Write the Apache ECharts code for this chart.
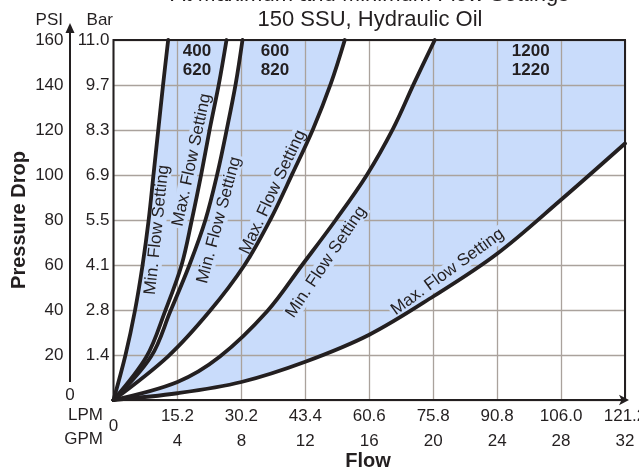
<!DOCTYPE html>
<html><head><meta charset="utf-8">
<script src="https://cdn.jsdelivr.net/npm/echarts/dist/echarts.min.js"></script>
<style>html,body{margin:0;padding:0;background:#fff}#c{width:639px;height:470px}</style>
</head><body><div id="c"></div>
<script>
// ---- data (GPM, PSI) ----
const gpmTicks = [0, 4, 8, 12, 16, 20, 24, 28, 32];
const lpmLabels = ['', '15.2', '30.2', '43.4', '60.6', '75.8', '90.8', '106.0', '121.2'];
const psiTicks = [0, 20, 40, 60, 80, 100, 120, 140, 160];
const barLabels = ['', '1.4', '2.8', '4.1', '5.5', '6.9', '8.3', '9.7', '11.0'];

const min400 = [[0,0],[0.75,20],[1.35,40],[1.82,60],[2.2,80],[2.5,100],[2.8,120],[3.1,140],[3.42,160]];
const max400 = [[0,0],[2.07,19.3],[3.22,39.3],[4.26,60],[4.9,80],[5.5,100.7],[6.03,120.7],[6.6,140.7],[7.07,160]];
const min600 = [[0,0],[2.35,19.3],[3.55,39.3],[4.75,60],[5.75,80],[6.5,100.7],[7.1,120.7],[7.65,140.7],[8.07,160]];
const max600 = [[0,0],[3.4,19.3],[6.0,39.3],[8.2,60],[9.8,80],[11.2,100.7],[12.5,120.7],[13.6,140.7],[14.47,160]];
const min1200 = [[0,0],[4,8],[6.66,19.3],[9.6,39.3],[11.8,60],[13.9,80],[15.85,100],[17.5,120.7],[18.8,140.7],[20.1,160]];
const max1200 = [[0,0],[4,3],[8,8],[12,17],[16,29],[20,46],[24,65],[28,89],[32,114]];

const bandNames = ['400\n620', '600\n820', '1200\n1220'];

// ---- styles ----
const FONT = "'Liberation Sans', Arial, Helvetica, sans-serif";
const INK = '#231f20';
const FILL = '#c9dcfb';
const GRIDC = '#aaa29c';

const chart = echarts.init(document.getElementById('c'), null, {renderer: 'canvas'});

function band(points) {
  return {
    type: 'custom', coordinateSystem: 'cartesian2d', z: 1, silent: true, clip: true,
    data: [[0, 0]],
    renderItem: (params, api) => ({
      type: 'polygon',
      shape: {points: points.map(p => api.coord(p))},
      style: {fill: FILL}
    })
  };
}
function curve(points) {
  return {
    type: 'line', data: points, smooth: 0.35, showSymbol: false, silent: true, z: 4, clip: true,
    lineStyle: {color: INK, width: 3.8, cap: 'round'}
  };
}

const xMax = gpmTicks[gpmTicks.length - 1], yMax = psiTicks[psiTicks.length - 1];
const band3 = min1200.concat([[xMax, yMax]], max1200.slice().reverse());

const lbl = {fontFamily: FONT, fontSize: 17, color: INK};

chart.setOption({
  animation: false,
  grid: {left: 113.5, right: 14, top: 40, bottom: 70, show: true, borderColor: INK, borderWidth: 2,
         backgroundColor: 'transparent', z: 6, outerBoundsMode: 'none'},
  xAxis: [
    {type: 'value', min: 0, max: xMax, interval: 4, position: 'bottom', z: 2,
     axisLine: {show: true, lineStyle: {color: INK, width: 2}}, axisTick: {show: false},
     splitLine: {show: true, lineStyle: {color: GRIDC, width: 1.3}},
     axisLabel: Object.assign({margin: 8, formatter: v => lpmLabels[gpmTicks.indexOf(v)] || ''}, lbl)},
    {type: 'value', min: 0, max: xMax, interval: 4, position: 'bottom', offset: 27, z: 2,
     axisLine: {show: true, symbol: ['none', 'arrow'], symbolSize: [8, 10], symbolOffset: [0, 4],
                lineStyle: {color: INK, width: 2}},
     axisTick: {show: false}, splitLine: {show: false},
     axisLabel: Object.assign({margin: 6, formatter: v => v === 0 ? '' : String(v)}, lbl)}
  ],
  yAxis: [
    {type: 'value', min: 0, max: yMax, interval: 20, position: 'left', z: 2,
     axisLine: {show: false}, axisTick: {show: false},
     splitLine: {show: true, lineStyle: {color: GRIDC, width: 1.3}},
     axisLabel: Object.assign({margin: 50, formatter: v => v === 0 ? '' : String(v)}, lbl)},
    {type: 'value', min: 0, max: yMax, interval: 20, position: 'left', z: 2,
     axisLine: {show: false}, axisTick: {show: false}, splitLine: {show: false},
     axisLabel: Object.assign({margin: 4, formatter: v => barLabels[psiTicks.indexOf(v)] || ''}, lbl)}
  ],
  series: [
    band(min400.concat(max400.slice().reverse())),
    band(min600.concat(max600.slice().reverse())),
    band(band3),
    curve(min400), curve(max400), curve(min600), curve(max600), curve(min1200), curve(max1200)
  ]
});

function P(x, y) { return chart.convertToPixel({gridIndex: 0}, [x, y]); }
function txt(x, y, text, opt) {
  opt = opt || {};
  return {
    type: 'text', x: x, y: y, rotation: opt.rot || 0, z: opt.z || 3, silent: true,
    style: {
      text: text, fill: INK, font: (opt.weight || 'normal') + ' ' + (opt.size || 17) + 'px ' + FONT,
      align: opt.align || 'center', verticalAlign: 'middle', textAlign: opt.align || 'center', textVerticalAlign: 'middle',
      backgroundColor: opt.bg, padding: opt.bg ? (opt.pad || [0, 3]) : 0, lineHeight: opt.lh
    }
  };
}
const deg = Math.PI / 180;
const curveLabels = [
  {t: 'Min. Flow Setting', at: [2.72, 75.6], rot: 84},
  {t: 'Max. Flow Setting', at: [4.9, 106.7], rot: 78},
  {t: 'Min. Flow Setting', at: [6.6, 80], rot: 75},
  {t: 'Max. Flow Setting', at: [9.97, 92.4], rot: 65},
  {t: 'Min. Flow Setting', at: [13.3, 61.3], rot: 56},
  {t: 'Max. Flow Setting', at: [20.9, 56.9], rot: 36}
];
const bandLabelAt = [[5.22, 150.7], [10.1, 150.7], [26.1, 150.7]];

const g = [];
curveLabels.forEach(c => { const p = P(c.at[0], c.at[1]); g.push(txt(p[0], p[1], c.t, {rot: c.rot * deg, bg: FILL, pad: [0, 2]})); });
bandNames.forEach((n, i) => { const p = P(bandLabelAt[i][0], bandLabelAt[i][1]); g.push(txt(p[0], p[1], n, {weight: 'bold', lh: 19.5})); });

// axis decorations
const o = P(0, 0);
g.push({type: 'line', z: 3, silent: true, shape: {x1: 70, y1: 382, x2: 70, y2: 31}, style: {stroke: INK, lineWidth: 2}});
g.push({type: 'polygon', z: 3, silent: true, shape: {points: [[70, 23], [65.5, 33], [74.5, 33]]}, style: {fill: INK}});
g.push(txt(70, 395, '0'));
g.push(txt(o[0], 426, '0', {bg: '#fff', pad: [0, 3], z: 10}));
g.push(txt(63, 20, 'PSI', {align: 'right'}));
g.push(txt(113, 20, 'Bar', {align: 'right'}));
g.push(txt(103, 415, 'LPM', {align: 'right'}));
g.push(txt(103, 439, 'GPM', {align: 'right'}));
g.push(txt(368, 461, 'Flow', {weight: 'bold', size: 20}));
g.push(txt(19, 220, 'Pressure Drop', {weight: 'bold', size: 20, rot: 90 * deg}));
g.push(txt(370, -5, 'At Maximum and Minimum Flow Settings', {size: 22}));
g.push(txt(370, 20, '150 SSU, Hydraulic Oil', {size: 22}));

chart.setOption({graphic: g});
</script>
</body></html>
